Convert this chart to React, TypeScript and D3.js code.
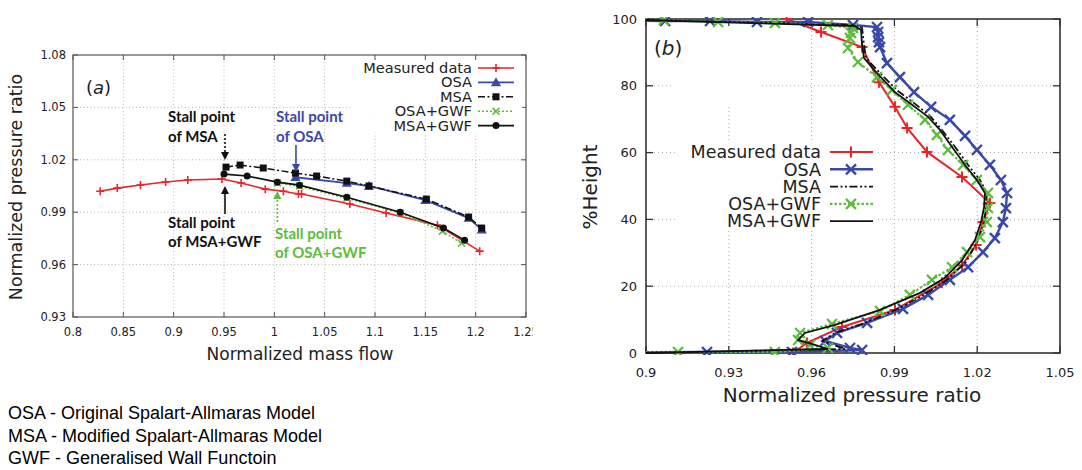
import React from "react";
import * as d3 from "d3";

type P = [number, number];

// ---- (a) pressure ratio vs normalized mass flow ----
const measuredA: P[] = [[0.827, 1.002], [0.844, 1.0038], [0.867, 1.0056], [0.892, 1.0073], [0.914, 1.0084], [0.948, 1.009], [0.967, 1.0067], [0.991, 1.0032], [1.009, 1.002], [1.024, 1.0004], [1.027, 1.0004], [1.075, 0.9947], [1.111, 0.9895], [1.162, 0.9826], [1.204, 0.9677]];
const osaA: P[] = [[1.021, 1.010], [1.072, 1.0067], [1.094, 1.005], [1.150, 0.9969], [1.193, 0.9866], [1.206, 0.980]];
const msaA: P[] = [[0.952, 1.0158], [0.966, 1.017], [0.989, 1.0153], [1.021, 1.0124], [1.042, 1.0107], [1.072, 1.0078], [1.094, 1.005], [1.151, 0.9975], [1.193, 0.9872], [1.206, 0.9809]];
const osaGwfA: P[] = [[1.003, 1.0067], [1.025, 1.005], [1.072, 0.998], [1.125, 0.9895], [1.167, 0.9792], [1.186, 0.9722]];
const msaGwfA: P[] = [[0.950, 1.0118], [0.973, 1.0107], [1.003, 1.0072], [1.025, 1.0055], [1.072, 0.9986], [1.125, 0.990], [1.168, 0.9809], [1.189, 0.974]];
const massTicks = [0.8, 0.85, 0.9, 0.95, 1, 1.05, 1.1, 1.15, 1.2, 1.25];
const prTicksA = [0.93, 0.96, 0.99, 1.02, 1.05, 1.08];

// ---- (b) spanwise profile ----
const measuredB: P[] = [[0.951, 100], [0.9634, 96.1], [0.9783, 91.6], [0.9844, 81.1], [0.9902, 73.7], [0.9946, 67.4], [1.0018, 60.2], [1.0145, 52.7], [1.0246, 44.9], [1.0221, 39.2], [1.0196, 32.3], [1.0145, 26.3], [1.0072, 21.0], [0.9902, 12.9], [0.971, 7.8], [0.9583, 3.0], [0.9533, 0]];
const osaB: P[] = [[0.89, 99.6], [0.9069, 99.4], [0.9232, 99.4], [0.9402, 99.1], [0.9587, 99.1], [0.975, 98.2], [0.9837, 97.6], [0.9841, 96.1], [0.9841, 94.6], [0.9844, 93.1], [0.9848, 91.6], [0.9873, 86.8], [0.992, 82.6], [0.9971, 78.1], [1.0033, 73.7], [1.0101, 69.8], [1.0156, 65.0], [1.0199, 60.8], [1.0246, 56.3], [1.0286, 51.8], [1.0308, 47.9], [1.0304, 43.4], [1.0293, 39.2], [1.0264, 34.4], [1.0221, 30.2], [1.0167, 25.7], [1.0101, 21.9], [1.0022, 17.4], [0.9931, 13.2], [0.9801, 9.0], [0.9692, 6.0], [0.9649, 3.6], [0.9739, 1.5], [0.9783, 0.9], [0.9529, 0.3], [0.9221, 0.3], [0.89, 0.2]];
const msaB: P[] = [[0.9, 99.7], [0.9757, 98.2], [0.9783, 97.3], [0.979, 92.2], [0.9797, 88.3], [0.9848, 83.8], [0.9909, 78.7], [0.9975, 74.6], [1.0029, 71.0], [1.0072, 66.8], [1.012, 61.7], [1.0167, 56.3], [1.021, 51.8], [1.0235, 47.9], [1.0232, 43.7], [1.0225, 39.2], [1.0203, 33.8], [1.0159, 27.2], [1.0091, 21.9], [1.0, 17.1], [0.992, 13.5], [0.9793, 9.0], [0.9685, 6.0], [0.9638, 3.6], [0.9721, 1.2], [0.9, 0]];
const osaGwfB: P[] = [[0.89, 100], [0.9065, 99.7], [0.9261, 99.1], [0.9467, 98.8], [0.9659, 98.2], [0.975, 97.3], [0.9743, 95.8], [0.9739, 94.3], [0.9732, 91.3], [0.9768, 87.1], [0.9837, 82.6], [0.9891, 78.7], [0.9949, 74.3], [1.0011, 69.8], [1.0054, 65.3], [1.0094, 60.8], [1.0149, 56.3], [1.0199, 51.8], [1.0239, 47.9], [1.0239, 43.4], [1.0235, 39.2], [1.021, 34.7], [1.0163, 30.2], [1.0109, 25.7], [1.0036, 21.9], [0.9956, 17.4], [0.9848, 12.6], [0.9674, 8.7], [0.9558, 6.0], [0.9551, 3.9], [0.9594, 2.4], [0.9659, 1.5], [0.9467, 0.3], [0.9116, 0.3], [0.89, 0.2]];
const msaGwfB: P[] = [[0.9, 99.7], [0.9757, 97.9], [0.9779, 96.7], [0.9783, 92.2], [0.979, 88.3], [0.9837, 83.8], [0.9902, 78.1], [0.9964, 74.3], [1.0022, 70.7], [1.0065, 66.8], [1.0109, 61.7], [1.0156, 56.3], [1.0199, 51.8], [1.0228, 47.9], [1.0225, 43.7], [1.0214, 39.2], [1.0192, 33.8], [1.0145, 27.8], [1.0083, 22.5], [0.9993, 18.0], [0.9848, 12.9], [0.9685, 8.4], [0.9576, 6.0], [0.9551, 3.9], [0.9612, 2.4], [0.9659, 1.2], [0.9, 0]];
const prTicksB = [0.9, 0.93, 0.96, 0.99, 1.02, 1.05];
const heightTicks = [0, 20, 40, 60, 80, 100];

const legendNames = ["Measured data", "OSA", "MSA", "OSA+GWF", "MSA+GWF"];
const footnotes = [
  "OSA - Original Spalart-Allmaras Model",
  "MSA - Modified Spalart-Allmaras Model",
  "GWF - Generalised Wall Functoin",
];

const RED = "#ec2227";
const BLUE = "#3a48a8";
const GREEN = "#5cbd3c";
const BLACK = "#111";
const TXT = "#222";
const FONT = "DejaVu Sans, sans-serif";

type Kind = "plus" | "cross" | "tri" | "square" | "circle" | "none";

function Marker({ kind, x, y, s, color, sw }: { kind: Kind; x: number; y: number; s: number; color: string; sw: number }) {
  if (kind === "plus")
    return <path d={`M${x - s},${y}H${x + s}M${x},${y - s}V${y + s}`} stroke={color} strokeWidth={sw} fill="none" />;
  if (kind === "cross")
    return <path d={`M${x - s},${y - s}L${x + s},${y + s}M${x - s},${y + s}L${x + s},${y - s}`} stroke={color} strokeWidth={sw} fill="none" />;
  if (kind === "tri")
    return <path d={d3.symbol(d3.symbolTriangle, s * s * 2.2)()!} transform={`translate(${x},${y + 0.8})`} fill={color} />;
  if (kind === "square") return <rect x={x - s} y={y - s} width={2 * s} height={2 * s} fill={color} />;
  if (kind === "circle") return <circle cx={x} cy={y} r={s} fill={color} />;
  return null;
}

function Arrow({ x, y1, y2, color, dash }: { x: number; y1: number; y2: number; color: string; dash?: string }) {
  const dir = y2 > y1 ? 1 : -1;
  const base = y2 - dir * 8;
  return (
    <g>
      <line x1={x} x2={x} y1={y1} y2={base} stroke={color} strokeWidth={1.6} strokeDasharray={dash} />
      <path d={`M${x - 4},${base}L${x + 4},${base}L${x},${y2}Z`} fill={color} />
    </g>
  );
}

export default function App() {
  // panel (a)
  const xa = d3.scaleLinear().domain([0.8, 1.25]).range([73, 526]);
  const ya = d3.scaleLinear().domain([0.93, 1.08]).range([317, 55]);
  const lineA = d3.line<P>().x((d) => xa(d[0])).y((d) => ya(d[1]));
  const fmtTrim = (v: number) => String(+v.toFixed(2));

  const seriesA = [
    { data: measuredA, color: RED, kind: "plus" as Kind, s: 4, dash: undefined, sw: 1.6 },
    { data: osaA, color: BLUE, kind: "tri" as Kind, s: 4.5, dash: undefined, sw: 1.8 },
    { data: msaA, color: BLACK, kind: "square" as Kind, s: 3.5, dash: "7,2.5,2,2.5", sw: 1.5 },
    { data: osaGwfA, color: GREEN, kind: "cross" as Kind, s: 3.5, dash: "2,2", sw: 1.6 },
    { data: msaGwfA, color: BLACK, kind: "circle" as Kind, s: 3.5, dash: undefined, sw: 1.6 },
  ];

  // panel (b)
  const xb = d3.scaleLinear().domain([0.9, 1.05]).range([646, 1060]);
  const yb = d3.scaleLinear().domain([0, 100]).range([353, 19]);
  const lineB = d3.line<P>().x((d) => xb(d[0])).y((d) => yb(d[1]));

  const seriesB = [
    { data: measuredB, color: RED, kind: "plus" as Kind, s: 5.5, dash: undefined, sw: 2 },
    { data: osaB, color: BLUE, kind: "cross" as Kind, s: 5, dash: undefined, sw: 2.4 },
    { data: msaB, color: BLACK, kind: "none" as Kind, s: 0, dash: "8,2.5,2,2.5,2,2.5", sw: 1.8 },
    { data: osaGwfB, color: GREEN, kind: "cross" as Kind, s: 5, dash: "2.5,2", sw: 2.2 },
    { data: msaGwfB, color: BLACK, kind: "none" as Kind, s: 0, dash: undefined, sw: 1.8 },
  ];

  const legA = legendNames.map((n, i) => ({ n, y: 68 + i * 14.4 }));
  const legB = legendNames.map((n, i) => ({ n, y: 152 + i * 17.3 }));

  return (
    <svg width={1082} height={470} style={{ position: "absolute", left: 0, top: 0, background: "#fff" }} fontFamily={FONT}>
      <defs>
        <clipPath id="clipA"><rect x={73} y={55} width={453} height={262} /></clipPath>
        <clipPath id="clipB"><rect x={646} y={17} width={414} height={338} /></clipPath>
        <clipPath id="cutLabel"><rect x={0} y={0} width={533} height={470} /></clipPath>
      </defs>

      {/* ---------- panel (a) ---------- */}
      <g>
        {massTicks.slice(1, -1).map((t) => (
          <line key={"gx" + t} x1={xa(t)} x2={xa(t)} y1={55} y2={317} stroke="#b5b5b5" strokeDasharray="1,2.5" />
        ))}
        {prTicksA.slice(1, -1).map((t) => (
          <line key={"gy" + t} x1={73} x2={526} y1={ya(t)} y2={ya(t)} stroke="#b5b5b5" strokeDasharray="1,2.5" />
        ))}
        {massTicks.map((t) => (
          <g key={"tx" + t} stroke="#555">
            <line x1={xa(t)} x2={xa(t)} y1={317} y2={312} />
            <line x1={xa(t)} x2={xa(t)} y1={55} y2={60} />
          </g>
        ))}
        {prTicksA.map((t) => (
          <g key={"ty" + t} stroke="#555">
            <line x1={73} x2={78} y1={ya(t)} y2={ya(t)} />
            <line x1={526} x2={521} y1={ya(t)} y2={ya(t)} />
          </g>
        ))}
        <rect x={73} y={55} width={453} height={262} fill="none" stroke="#555" strokeWidth={1.2} />
        <g fontSize={11.5} fill={TXT}>
          {massTicks.map((t) => (
            <text key={"lx" + t} x={xa(t)} y={336} textAnchor="middle" clipPath="url(#cutLabel)">{fmtTrim(t)}</text>
          ))}
          {prTicksA.map((t) => (
            <text key={"ly" + t} x={66} y={ya(t) + 4} textAnchor="end">{t.toFixed(2)}</text>
          ))}
        </g>
        <text x={300} y={360} fontSize={17} textAnchor="middle" fill={TXT}>Normalized mass flow</text>
        <text transform="translate(22,187) rotate(-90)" fontSize={17.5} textAnchor="middle" fill={TXT}>Normalized pressure ratio</text>
        <text x={86} y={94} fontSize={18} fill={TXT}>(<tspan fontStyle="italic">a</tspan>)</text>

        {/* legend */}
        {legA.map((r) => (
          <rect key={"lbA" + r.n} x={350} y={r.y - 7.2} width={172} height={14.4} fill="#fff" />
        ))}
        {legA.map((r, i) => {
          const s = seriesA[i];
          return (
            <g key={"lgA" + r.n}>
              <text x={472} y={r.y + 5} fontSize={14.6} textAnchor="end" fill={TXT}>{r.n}</text>
              <line x1={478} x2={514} y1={r.y} y2={r.y} stroke={s.color} strokeWidth={s.sw} strokeDasharray={s.dash} />
              <Marker kind={s.kind} x={496} y={r.y} s={s.s} color={s.color} sw={s.sw} />
            </g>
          );
        })}

        <g clipPath="url(#clipA)">
          {seriesA.map((s, i) => (
            <g key={"sA" + i}>
              <path d={lineA(s.data)!} fill="none" stroke={s.color} strokeWidth={s.sw} strokeDasharray={s.dash} />
              {s.data.map((d, j) => (
                <Marker key={j} kind={s.kind} x={xa(d[0])} y={ya(d[1])} s={s.s} color={s.color} sw={s.sw} />
              ))}
            </g>
          ))}
        </g>

        {/* stall point annotations */}
        <g fontFamily="Lato, sans-serif" fontWeight={700} fontSize={15}>
          <text x={168} y={122} fill={BLACK}>Stall point</text>
          <text x={168} y={142} fill={BLACK}>of MSA</text>
          <text x={276} y={122} fill={BLUE}>Stall point</text>
          <text x={276} y={142} fill={BLUE}>of OSA</text>
          <text x={168} y={228} fill={BLACK}>Stall point</text>
          <text x={168} y={247} fill={BLACK}>of MSA+GWF</text>
          <text x={275} y={239} fill={GREEN}>Stall point</text>
          <text x={275} y={258} fill={GREEN}>of OSA+GWF</text>
        </g>
        <Arrow x={xa(0.951)} y1={134} y2={160} color={BLACK} dash="2,2" />
        <Arrow x={xa(1.0215)} y1={145} y2={172} color={BLUE} />
        <Arrow x={xa(0.951)} y1={214} y2={186} color={BLACK} />
        <Arrow x={xa(1.003)} y1={222} y2={191} color={GREEN} dash="2,2" />
      </g>

      {/* ---------- panel (b) ---------- */}
      <g>
        {prTicksB.slice(1, -1).map((t) => (
          <line key={"gxb" + t} x1={xb(t)} x2={xb(t)} y1={19} y2={353} stroke="#aaa" strokeDasharray="1,3" />
        ))}
        {heightTicks.slice(1, -1).map((t) => (
          <line key={"gyb" + t} x1={646} x2={1060} y1={yb(t)} y2={yb(t)} stroke="#aaa" strokeDasharray="1,3" />
        ))}
        <rect x={673} y={22} width={89} height={85} fill="#fff" />
        {prTicksB.map((t) => (
          <g key={"txb" + t} stroke="#333" strokeWidth={1.3}>
            <line x1={xb(t)} x2={xb(t)} y1={353} y2={346} />
            <line x1={xb(t)} x2={xb(t)} y1={19} y2={26} />
          </g>
        ))}
        {heightTicks.map((t) => (
          <g key={"tyb" + t} stroke="#333" strokeWidth={1.3}>
            <line x1={646} x2={653} y1={yb(t)} y2={yb(t)} />
            <line x1={1060} x2={1053} y1={yb(t)} y2={yb(t)} />
          </g>
        ))}
        <rect x={646} y={19} width={414} height={334} fill="none" stroke="#333" strokeWidth={1.6} />
        <g fontSize={13} fill={TXT}>
          {prTicksB.map((t) => (
            <text key={"lxb" + t} x={xb(t)} y={377} textAnchor="middle">{fmtTrim(t)}</text>
          ))}
          {heightTicks.map((t) => (
            <text key={"lyb" + t} x={637} y={yb(t) + 4.5} textAnchor="end">{t}</text>
          ))}
        </g>
        <text x={852} y={402} fontSize={20} textAnchor="middle" fill={TXT}>Normalized pressure ratio</text>
        <text transform="translate(597,187) rotate(-90)" fontSize={20} textAnchor="middle" fill={TXT}>%Height</text>
        <text x={654} y={55} fontSize={20} fill={TXT}>(<tspan fontStyle="italic">b</tspan>)</text>

        {legB.map((r) => (
          <rect key={"lbB" + r.n} x={678} y={r.y - 8.65} width={198} height={17.3} fill="#fff" />
        ))}
        {legB.map((r, i) => {
          const s = seriesB[i];
          return (
            <g key={"lgB" + r.n}>
              <text x={821} y={r.y + 6.2} fontSize={17.5} textAnchor="end" fill={TXT}>{r.n}</text>
              <line x1={830} x2={873} y1={r.y} y2={r.y} stroke={s.color} strokeWidth={s.sw} strokeDasharray={s.dash} />
              <Marker kind={s.kind} x={851} y={r.y} s={s.s} color={s.color} sw={s.sw} />
            </g>
          );
        })}

        <g clipPath="url(#clipB)">
          {seriesB.map((s, i) => (
            <g key={"sB" + i}>
              <path d={lineB(s.data)!} fill="none" stroke={s.color} strokeWidth={s.sw} strokeDasharray={s.dash} />
              {s.data.map((d, j) => (
                <Marker key={j} kind={s.kind} x={xb(d[0])} y={yb(d[1])} s={s.s} color={s.color} sw={s.sw} />
              ))}
            </g>
          ))}
        </g>
      </g>

      {/* footnotes */}
      <g fontFamily="Liberation Sans, Arial, sans-serif" fontSize={18} fill="#000">
        {footnotes.map((f, i) => (
          <text key={f} x={8} y={419 + i * 22.5}>{f}</text>
        ))}
      </g>
    </svg>
  );
}
